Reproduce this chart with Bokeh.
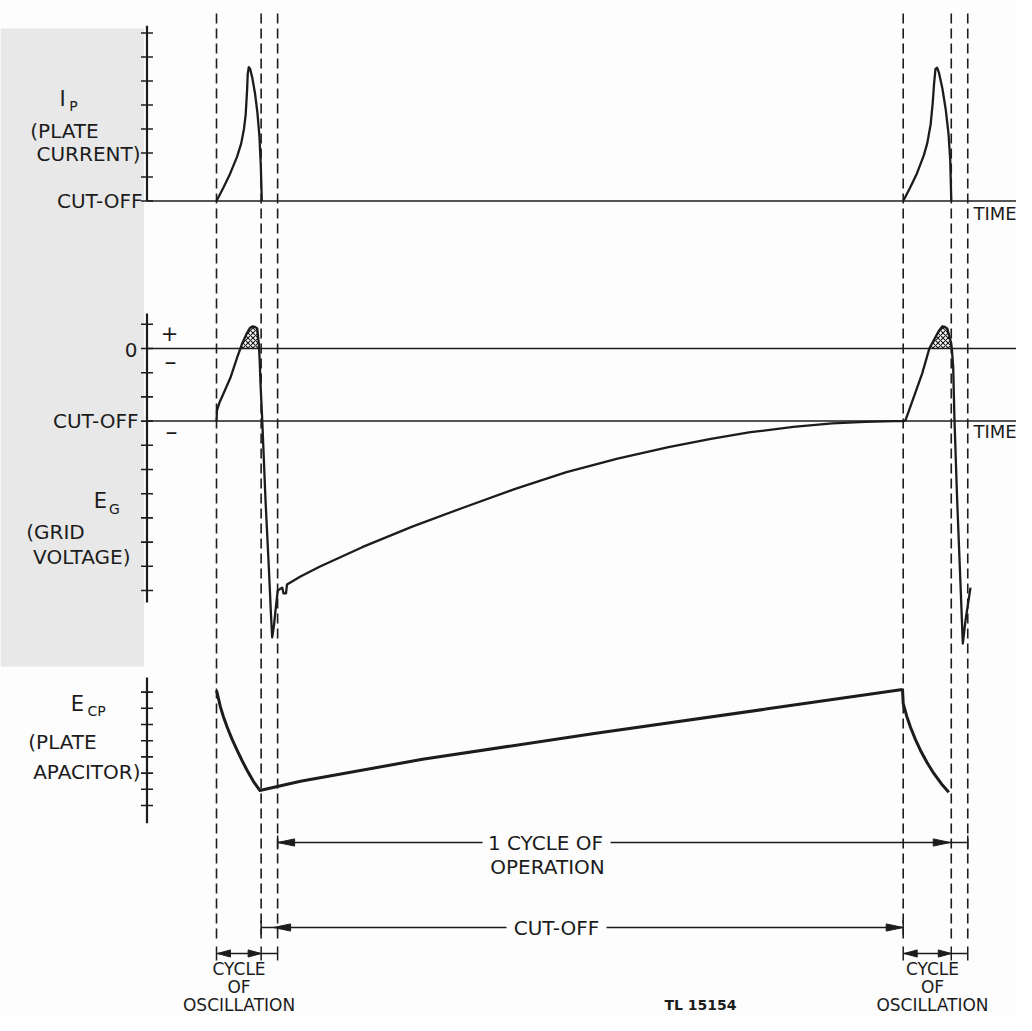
from bokeh.plotting import figure
from bokeh.models import Range1d
from bokeh.embed import file_html
from bokeh.resources import INLINE
from bokeh.core.properties import value
import numpy as np

# ---------------- data (time in units where one cycle of operation = 100) -------------
EVENT_T = [0.0, 6.5, 8.9, 100.0, 107.0, 109.4]   # dashed event lines

# plate current (tick units, 0 = cut-off)
IP_T_1 = [0.0, 1.0, 2.0, 3.0, 3.6, 4.0, 4.25, 4.45, 4.55, 4.7, 4.9, 5.2, 5.6, 5.95, 6.25, 6.45, 6.6]
IP_V_1 = [0.0, 0.55, 1.15, 1.85, 2.4, 3.0, 3.6, 4.6, 5.3, 5.58, 5.5, 5.15, 4.5, 3.7, 2.7, 1.5, 0.0]
IP_T_2 = [100.0, 101.0, 102.0, 103.0, 103.5, 104.0, 104.3, 104.5, 104.7, 104.95, 105.2, 105.7, 106.2, 106.6, 106.85, 107.0]
IP_V_2 = [0.0, 0.55, 1.15, 1.9, 2.4, 3.2, 4.1, 4.9, 5.5, 5.55, 5.35, 4.7, 3.8, 2.8, 1.7, 0.0]

# grid voltage (tick units, 0 = zero volts, cut-off = -3)
EG_CUTOFF = -3.0
EG_T_1 = [0.0, 0.07, 0.44, 1.02, 2.04, 3.01, 3.48, 3.74, 4.47, 4.88, 5.20, 5.61, 5.93, 6.16, 6.20,
          6.29, 6.41, 6.65, 7.14, 7.62, 7.94, 8.11, 8.37, 8.59, 8.92, 9.57, 9.76, 10.12, 10.27,
          12.23, 15.0, 21.22, 28.5, 36.1, 43.5, 50.97, 58.4, 65.82, 72.0, 77.76, 84.0, 89.66, 94.5, 98.6, 100.0]
EG_V_1 = [-3.0, -2.56, -2.23, -1.86, -1.20, -0.37, 0.0, 0.21, 0.66, 0.85, 0.91, 0.89, 0.83, 0.21, 0.0,
          -0.50, -1.45, -2.89, -6.28, -9.05, -11.03, -11.94, -11.45, -10.83, -10.0, -9.88, -10.12, -10.12, -9.75,
          -9.42, -9.02, -8.21, -7.36, -6.56, -5.80, -5.11, -4.55, -4.08, -3.73, -3.46, -3.24, -3.09, -3.03, -3.0, -3.0]
EG_T_2 = [100.0, 100.33, 101.54, 102.77, 103.73, 103.80, 104.7, 105.21, 105.68, 106.01, 106.41, 106.99, 107.08,
          107.28, 107.47, 107.86, 108.34, 108.68, 109.07, 109.8]
EG_V_2 = [-3.0, -2.97, -2.01, -1.03, -0.08, 0.0, 0.47, 0.74, 0.91, 0.90, 0.83, 0.21, 0.0,
          -0.77, -2.98, -6.28, -9.71, -12.19, -11.24, -9.88]

# plate capacitor voltage (tick units)
ECP_T_1 = [0.0, 0.29, 0.58, 1.02, 1.56, 2.26, 3.01, 3.71, 4.47, 5.39, 6.31,
           12.23, 30.0, 55.0, 80.0, 99.9]
ECP_V_1 = [7.10, 6.60, 6.07, 5.46, 4.83, 4.10, 3.40, 2.78, 2.16, 1.48, 0.93,
           1.50, 2.85, 4.45, 5.95, 7.16]
ECP_T_2 = [99.9, 100.0, 100.48, 101.06, 101.79, 102.52, 103.47, 104.46, 105.58, 106.64]
ECP_V_2 = [7.16, 6.30, 5.56, 4.83, 4.07, 3.40, 2.65, 1.98, 1.33, 0.82]

IP_TICKS = [0, 1, 2, 3, 4, 5, 6, 7]
EG_TICKS = [1, 0, -1, -2, -3, -4, -5, -6, -7, -8, -9, -10]
ECP_TICKS = [0, 1, 2, 3, 4, 5, 6, 7]

# ---------------- layout (picture pixels) ----------------
FONT = "DejaVu Sans"
INK = "#1c1c1c"
W, H = 1016, 1015
X0, K = 216.0, 6.867
IP_ZERO, IP_PPU = 200.5, 24.0
EG_ZERO, EG_PPU = 348.0, 24.2
ECP_ZERO, ECP_PPU = 805.0, 16.2
AXIS_X = 146.5

p = figure(width=W, height=H, x_range=Range1d(0, W), y_range=Range1d(H, 0),
           output_backend="svg", toolbar_location=None, title=None,
           x_axis_type=None, y_axis_type=None, min_border=0)
p.outline_line_color = None
p.background_fill_color = "#fdfdfd"
p.border_fill_color = "#fdfdfd"
p.extra_x_ranges = {"t": Range1d((0 - X0) / K, (W - X0) / K)}


def band(zero, ppu):
    return Range1d(start=(zero - H) / ppu, end=zero / ppu)


p.extra_y_ranges = {"ip": band(IP_ZERO, IP_PPU), "eg": band(EG_ZERO, EG_PPU),
                    "ecp": band(ECP_ZERO, ECP_PPU)}


def tx(t):
    return X0 + K * t


# scanned grey strip on the left
p.quad(left=[0], right=[AXIS_X - 3], top=[28], bottom=[666], fill_color="#e8e8e8", line_color=None)


def txt(x, y, s, size=20, align="center", bold=False, color=INK):
    p.text(x=[x], y=[y], text=[s], text_font=value(FONT), text_font_size=value(f"{size}px"),
           text_align=align, text_baseline="middle", text_color=color,
           text_font_style="bold" if bold else "normal")


# ---- dashed event lines
p.segment(x0=EVENT_T, x1=EVENT_T, y0=13, y1=940, x_range_name="t",
          line_color=INK, line_width=1.6, line_dash="10 5")

# ---- axes (spines + cross ticks)
for rng, top, bot, ticks in [("ip", 7.3, 0.0, IP_TICKS), ("eg", 1.45, -10.5, EG_TICKS),
                             ("ecp", 7.9, -1.1, ECP_TICKS)]:
    p.segment(x0=[AXIS_X], x1=[AXIS_X], y0=[top], y1=[bot], y_range_name=rng,
              line_color=INK, line_width=2.2)
    p.segment(x0=AXIS_X - 6, x1=AXIS_X + 6, y0=ticks, y1=ticks, y_range_name=rng,
              line_color=INK, line_width=1.6)

# ---- horizontal reference lines
p.segment(x0=[AXIS_X], x1=[W], y0=[0], y1=[0], y_range_name="ip", line_color=INK, line_width=1.5)
p.segment(x0=[AXIS_X, AXIS_X], x1=[W] * 2, y0=[0, EG_CUTOFF], y1=[0, EG_CUTOFF],
          y_range_name="eg", line_color=INK, line_width=1.5)

# ---- hatched positive-grid regions
for ts, vs in [(EG_T_1, EG_V_1), (EG_T_2, EG_V_2)]:
    t = np.array(ts)
    v = np.array(vs)
    idx = np.where(v >= 0)[0]
    seg = slice(idx[0], idx[-1] + 1)
    p.patch(x=t[seg], y=v[seg], x_range_name="t", y_range_name="eg", fill_color=None,
            line_color=None, hatch_pattern="x", hatch_scale=5, hatch_weight=1.1, hatch_color=INK)

# ---- curves
for ts, vs in [(IP_T_1, IP_V_1), (IP_T_2, IP_V_2)]:
    p.line(ts, vs, x_range_name="t", y_range_name="ip", line_color=INK, line_width=2.3, line_join="round")
for ts, vs in [(EG_T_1, EG_V_1), (EG_T_2, EG_V_2)]:
    p.line(ts, vs, x_range_name="t", y_range_name="eg", line_color=INK, line_width=2.3, line_join="round")
for ts, vs in [(ECP_T_1, ECP_V_1), (ECP_T_2, ECP_V_2)]:
    p.line(ts, vs, x_range_name="t", y_range_name="ecp", line_color=INK, line_width=3.0, line_join="round")

# ---- panel labels
txt(62, 98, "I", 21)
txt(73, 105, "P", 14)
txt(64, 130, "(PLATE", 20)
txt(140, 153, "CURRENT)", 20, align="right")
txt(142, 200, "CUT-OFF", 20, align="right")
txt(973, 213, "TIME", 18, align="left")

txt(169, 332, "+", 21)
txt(137, 349, "0", 20, align="right")
txt(170, 361, "\u2013", 24)
txt(138, 420, "CUT-OFF", 20, align="right")
txt(171, 431, "\u2013", 24)
txt(973, 431, "TIME", 18, align="left")
txt(100, 500, "E", 21)
txt(114, 508, "G", 14)
txt(55, 531, "(GRID", 20)
txt(130, 556, "VOLTAGE)", 20, align="right")

txt(77, 703, "E", 21)
txt(96, 710, "CP", 14)
txt(62, 741, "(PLATE", 20)
txt(140, 771, "APACITOR)", 20, align="right")

# ---- bottom timing annotations
Y_CYC, Y_CUT, Y_OSC = 842, 927, 953
CYC_TEXT_X, CUT_TEXT_X = 545, 556
txt(CYC_TEXT_X, Y_CYC, "1 CYCLE OF", 20)
txt(CYC_TEXT_X + 2, Y_CYC + 24, "OPERATION", 20)
txt(CUT_TEXT_X, Y_CUT, "CUT-OFF", 20)
for cx in [tx((EVENT_T[0] + EVENT_T[2]) / 2) - 8, tx((EVENT_T[3] + EVENT_T[5]) / 2) - 3]:
    txt(cx, 968, "CYCLE", 17)
    txt(cx, 986, "OF", 17)
    txt(cx, 1004, "OSCILLATION", 17)
txt(700, 1004, "TL 15154", 14, bold=True)

# arrow shafts
p.segment(x0=[tx(EVENT_T[2]), CYC_TEXT_X + 65], x1=[CYC_TEXT_X - 63, tx(EVENT_T[5])],
          y0=[Y_CYC] * 2, y1=[Y_CYC] * 2, line_color=INK, line_width=1.5)
p.segment(x0=[tx(EVENT_T[1]), CUT_TEXT_X + 50], x1=[CUT_TEXT_X - 50, tx(EVENT_T[3])],
          y0=[Y_CUT] * 2, y1=[Y_CUT] * 2, line_color=INK, line_width=1.5)
p.segment(x0=[tx(EVENT_T[0]), tx(EVENT_T[3])], x1=[tx(EVENT_T[2]), tx(EVENT_T[5])],
          y0=[Y_OSC] * 2, y1=[Y_OSC] * 2, line_color=INK, line_width=1.5)
# end ticks
tick_x = [tx(EVENT_T[2]), tx(EVENT_T[5]), tx(EVENT_T[1]), tx(EVENT_T[3])] + [tx(t) for t in EVENT_T]
tick_y = [Y_CYC, Y_CYC, Y_CUT, Y_CUT] + [Y_OSC] * 6
p.segment(x0=tick_x, x1=tick_x, y0=[y - 7 for y in tick_y], y1=[y + 7 for y in tick_y],
          line_color=INK, line_width=1.5)

# arrow heads: (tip x, y, direction, length)
heads = [(tx(EVENT_T[2]), Y_CYC, -1, 17), (tx(EVENT_T[4]) - 1, Y_CYC, 1, 17),
         (tx(EVENT_T[2]) - 4, Y_CUT, -1, 17), (tx(EVENT_T[3]), Y_CUT, 1, 17),
         (tx(EVENT_T[0]) + 1, Y_OSC, -1, 13), (tx(EVENT_T[1]), Y_OSC, 1, 13),
         (tx(EVENT_T[3]) + 1, Y_OSC, -1, 13), (tx(EVENT_T[4]), Y_OSC, 1, 13)]
xs, ys = [], []
for hx, hy, d, L in heads:
    xs.append([hx, hx - d * L, hx - d * L])
    ys.append([hy, hy - 3.6, hy + 3.6])
p.patches(xs=xs, ys=ys, fill_color=INK, line_color=INK, line_width=1)

open("out.html", "w").write(file_html(p, INLINE))
